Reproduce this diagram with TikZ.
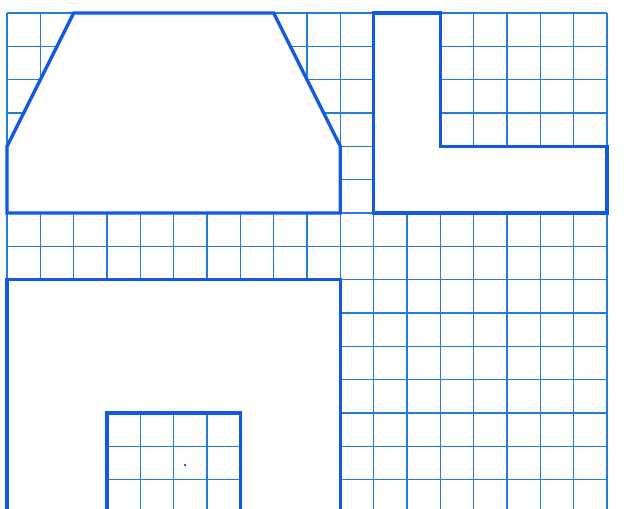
\documentclass[tikz,border=0pt]{standalone}
\usepackage{tikz}
\definecolor{gridblue}{RGB}{35,125,215}
\definecolor{edgeblue}{RGB}{18,90,225}
\tikzset{
  gridline/.style={gridblue, line width=1.4pt},
  outline/.style={edgeblue, line width=2.8pt, fill=white, line join=miter},
}
\begin{document}
\begin{tikzpicture}
  \clip (-0.21,-14.88) rectangle (18.81,0.39);
  \fill[white] (-0.21,-14.88) rectangle (18.81,0.39);
  \draw[gridline] (0,-15) grid (18,0);
  % roof
  \draw[outline] (2,0) -- (8,0) -- (10,-4) -- (10,-6) -- (0,-6) -- (0,-4) -- cycle;
  % L shape
  \draw[outline] (11,0) -- (13,0) -- (13,-4) -- (18,-4) -- (18,-6) -- (11,-6) -- cycle;
  % wall with the door
  \draw[outline] (0,-8) -- (10,-8) -- (10,-16) -- (7,-16) -- (7,-12)
    -- (3,-12) -- (3,-16) -- (0,-16) -- cycle;
  \fill[black!70] (5.34,-13.56) circle (0.04);
\end{tikzpicture}
\end{document}
